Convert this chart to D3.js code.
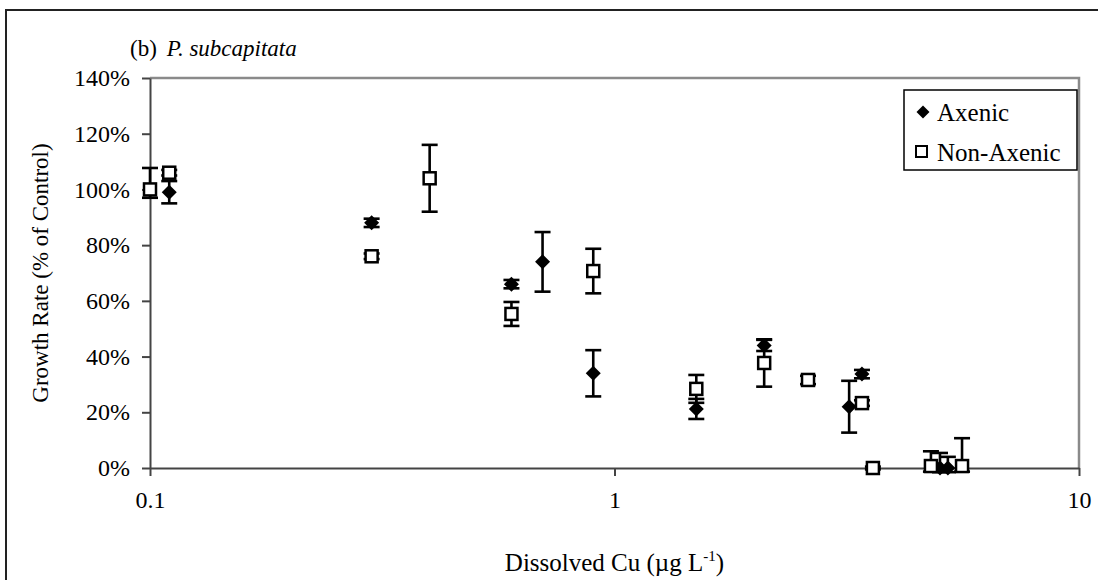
<!DOCTYPE html>
<meta charset="utf-8">
<style>

body {
  margin: 0;
  background: #fff;
}

text {
  font-family: "Liberation Serif", "Times New Roman", serif;
  fill: #000;
}

</style>
<svg id="chart" width="1098" height="580"></svg>
<script src="https://d3js.org/d3.v7.min.js"></script>
<script>

// Dissolved Cu (ug/L) and growth rate (% of control).
var axenicCu    = [0.11, 0.30, 0.60, 0.70, 0.90, 1.50, 2.10, 3.20, 3.41, 5.02, 5.22],
    axenicRate  = [99, 88, 66, 74, 34, 21.2, 44, 22, 33.7, 0, 0],
    axenicPlus  = [4, 1.5, 1.5, 10.7, 8.3, 3.6, 2, 9.3, 1.5, 5.4, 4],
    axenicMinus = [4, 1.5, 1.5, 10.7, 8.3, 3.6, 2, 9.3, 1.5, 1.5, 1.5];

var nonAxenicCu    = [0.10, 0.11, 0.30, 0.40, 0.60, 0.90, 1.50, 2.10, 2.61, 3.41, 3.60, 4.80, 5.60],
    nonAxenicRate  = [100, 106, 76, 104, 55.3, 70.7, 28.4, 37.7, 31.6, 23.3, 0, 0.7, 0.7],
    nonAxenicPlus  = [7.7, 1, 1, 12, 4.3, 8, 5, 8.5, 1.5, 1, 0.5, 5.3, 10],
    nonAxenicMinus = [3, 1, 1, 12, 4.3, 8, 5, 8.5, 1.5, 1, 0.5, 2, 2];

var xTicks = [0.1, 1, 10],
    yTicks = [0, 0.2, 0.4, 0.6, 0.8, 1.0, 1.2, 1.4];

var svg = d3.select("svg"),
    margin = {top: 78, right: 19, bottom: 112, left: 150},
    width = +svg.attr("width") - margin.left - margin.right,
    height = +svg.attr("height") - margin.top - margin.bottom;

// outer frame (runs off the right and bottom edges)
svg.append("rect")
    .attr("x", 6)
    .attr("y", 10)
    .attr("width", 1110)
    .attr("height", 600)
    .attr("fill", "none")
    .attr("stroke", "#222")
    .attr("stroke-width", 2);

var g = svg.append("g").attr("transform", "translate(" + margin.left + "," + margin.top + ")");

var x = d3.scaleLog()
    .domain([0.1, 10])
    .range([0, width]);

var y = d3.scaleLinear()
    .domain([0, 1.4])
    .range([height, 0]);

// plot area border on top and right
g.append("path")
    .attr("d", "M0,0H" + width + "V" + height)
    .attr("fill", "none")
    .attr("stroke", "#8a8a8a")
    .attr("stroke-width", 2.5);

var xAxis = g.append("g")
    .attr("transform", "translate(0," + height + ")")
    .call(d3.axisBottom(x)
        .tickValues(xTicks)
        .tickFormat(d3.format("~g"))
        .tickSize(8)
        .tickSizeOuter(0)
        .tickPadding(15));

var yAxis = g.append("g")
    .call(d3.axisLeft(y)
        .tickValues(yTicks)
        .tickFormat(d3.format(".0%"))
        .tickSize(8)
        .tickSizeOuter(0)
        .tickPadding(12));

g.selectAll(".domain, .tick line")
    .attr("stroke", "#444")
    .attr("stroke-width", 2);

g.selectAll(".tick text")
    .style("font-family", "'Liberation Serif', 'Times New Roman', serif")
    .style("font-size", "24px")
    .attr("fill", "#000");

function rows(cu, rate, plus, minus) {
  return cu.map(function(c, i) {
    return {x: c, y: rate[i] / 100, hi: (rate[i] + plus[i]) / 100, lo: (rate[i] - minus[i]) / 100};
  });
}

var axenic = rows(axenicCu, axenicRate, axenicPlus, axenicMinus),
    nonAxenic = rows(nonAxenicCu, nonAxenicRate, nonAxenicPlus, nonAxenicMinus);

// error bars under the markers
var bars = g.append("g")
    .attr("stroke", "#000")
    .attr("stroke-width", 2.6)
    .selectAll("g")
  .data(axenic.concat(nonAxenic))
  .enter().append("g")
    .attr("transform", function(d) { return "translate(" + x(d.x) + ",0)"; });

bars.append("line")
    .attr("y1", function(d) { return y(d.hi); })
    .attr("y2", function(d) { return y(d.lo); });

bars.append("line")
    .attr("x1", -8).attr("x2", 8)
    .attr("y1", function(d) { return y(d.hi); })
    .attr("y2", function(d) { return y(d.hi); });

bars.append("line")
    .attr("x1", -8).attr("x2", 8)
    .attr("y1", function(d) { return y(d.lo); })
    .attr("y2", function(d) { return y(d.lo); });

var diamond = "M0,-7.5L7.5,0L0,7.5L-7.5,0Z";

g.append("g")
    .selectAll("path")
  .data(axenic)
  .enter().append("path")
    .attr("d", diamond)
    .attr("fill", "#000")
    .attr("transform", function(d) { return "translate(" + x(d.x) + "," + y(d.y) + ")"; });

g.append("g")
    .selectAll("rect")
  .data(nonAxenic)
  .enter().append("rect")
    .attr("x", function(d) { return x(d.x) - 6; })
    .attr("y", function(d) { return y(d.y) - 6; })
    .attr("width", 12)
    .attr("height", 12)
    .attr("fill", "#fff")
    .attr("stroke", "#000")
    .attr("stroke-width", 2.5);

// legend
var legend = svg.append("g").attr("transform", "translate(904,90)");

legend.append("rect")
    .attr("width", 173)
    .attr("height", 80)
    .attr("fill", "#fff")
    .attr("stroke", "#000")
    .attr("stroke-width", 1.5);

legend.append("path")
    .attr("d", "M0,-6.5L6.5,0L0,6.5L-6.5,0Z")
    .attr("transform", "translate(19,22)");

legend.append("rect")
    .attr("x", 12).attr("y", 56)
    .attr("width", 11).attr("height", 11)
    .attr("fill", "#fff")
    .attr("stroke", "#000")
    .attr("stroke-width", 2);

legend.append("text")
    .attr("x", 33).attr("y", 31)
    .style("font-size", "25px")
    .text("Axenic");

legend.append("text")
    .attr("x", 33).attr("y", 71)
    .style("font-size", "25px")
    .text("Non-Axenic");

// title
var title = svg.append("text")
    .attr("x", 130)
    .attr("y", 56)
    .style("font-size", "23px")
    .attr("xml:space", "preserve");

title.append("tspan").text("(b)");
title.append("tspan").attr("dx", 10).style("font-style", "italic").text("P. subcapitata");

// axis titles
svg.append("text")
    .attr("transform", "translate(48," + (margin.top + height / 2) + ") rotate(-90)")
    .attr("text-anchor", "middle")
    .style("font-size", "23px")
    .text("Growth Rate (% of Control)");

var xLabel = svg.append("text")
    .attr("x", margin.left + width / 2)
    .attr("y", 571)
    .attr("text-anchor", "middle")
    .style("font-size", "25px");

xLabel.append("tspan").text("Dissolved Cu (\u00b5g L");
xLabel.append("tspan").attr("dy", -10).style("font-size", "15px").text("-1");
xLabel.append("tspan").attr("dy", 10).text(")");

</script>
